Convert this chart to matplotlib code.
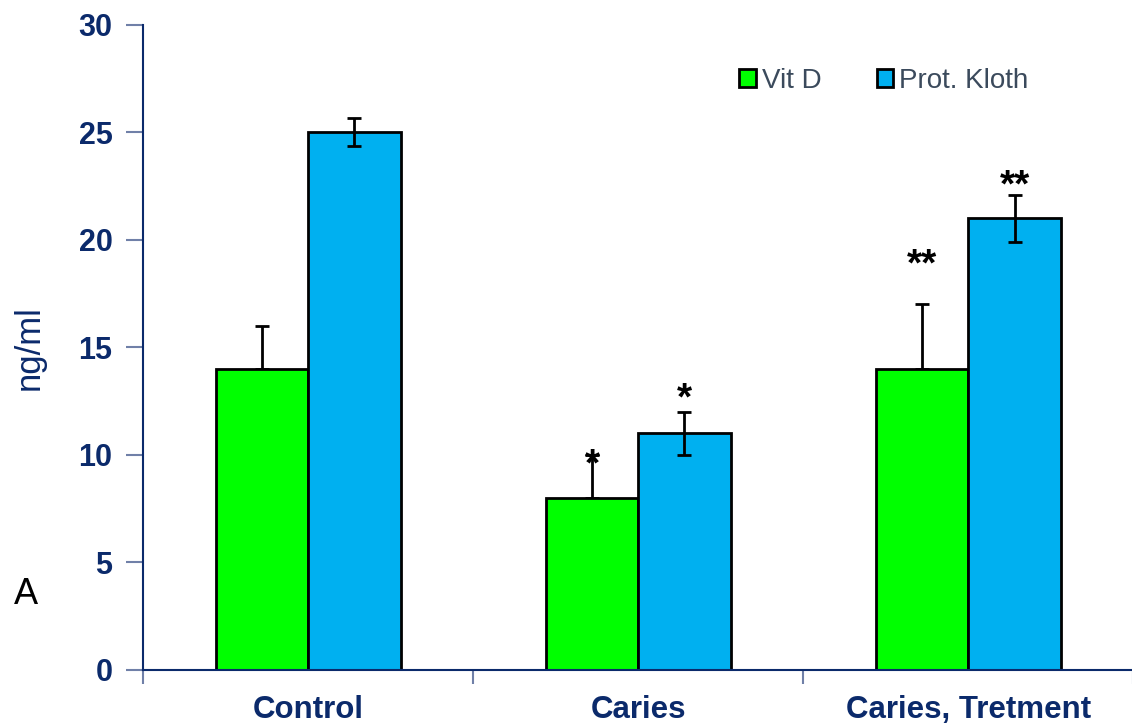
import matplotlib
matplotlib.use('Agg')
import matplotlib.pyplot as plt
import numpy as np

plt.rcParams['font.family'] = ['Liberation Sans', 'DejaVu Sans']

groups = ['Control', 'Caries', 'Caries, Tretment']
vitd = [14, 8, 14]
vitd_err = [2, 2, 3]
kloth = [25, 11, 21]
kloth_err = [0.65, 1.0, 1.1]
vitd_marks = ['', '*', '**']
kloth_marks = ['', '*', '**']
vitd_mark_y = [0, 9.5, 18.8]
kloth_mark_y = [0, 12.6, 22.5]

navy = '#0b2a6b'
fig = plt.figure(figsize=(11.32, 7.28), dpi=100)
ax = fig.add_axes([0.1263, 0.0797, 0.875, 0.886])

x = np.arange(len(groups))
w = 0.28
ax.bar(x - w/2, vitd, w, color='#00ff00', edgecolor='black', linewidth=2, label='Vit D', zorder=2)
ax.bar(x + w/2, kloth, w, color='#00b0f0', edgecolor='black', linewidth=2, label='Prot. Kloth', zorder=2)
ax.errorbar(x - w/2, vitd, yerr=[np.zeros(3), vitd_err], fmt='none', ecolor='black',
            elinewidth=2, capsize=5, capthick=2, zorder=1)
ax.errorbar(x + w/2, kloth, yerr=kloth_err, fmt='none', ecolor='black',
            elinewidth=2, capsize=5, capthick=2, zorder=3)

for i in range(3):
    if vitd_marks[i]:
        ax.text(x[i] - w/2, vitd_mark_y[i], vitd_marks[i], ha='center', va='center',
                fontsize=28, fontweight='bold', zorder=4)
    if kloth_marks[i]:
        ax.text(x[i] + w/2, kloth_mark_y[i], kloth_marks[i], ha='center', va='center',
                fontsize=28, fontweight='bold', zorder=4)

ax.set_xlim(-0.5, 2.5)
ax.set_ylim(0, 30)
ax.set_yticks(range(0, 31, 5))
ax.set_xticks([-0.5, 0.5, 1.5, 2.5])
ax.set_xticklabels([])
ax.set_xticks(x, minor=True)
ax.set_xticklabels(groups, minor=True)
ax.tick_params(axis='x', which='minor', length=0, pad=18, labelsize=22.5, labelcolor=navy)
ax.tick_params(axis='x', which='major', length=10, color='#7080a8', width=1.5)
ax.tick_params(axis='y', length=12, color='#7080a8', width=1.5, labelsize=22,
               labelcolor=navy, pad=10)
for lab in ax.get_xticklabels(minor=True) + ax.get_yticklabels():
    lab.set_fontweight('bold')

for s in ['top', 'right']:
    ax.spines[s].set_visible(False)
for s in ['left', 'bottom']:
    ax.spines[s].set_color(navy)
    ax.spines[s].set_linewidth(1.5)

ax.set_ylabel('ng/ml', fontsize=25, color=navy)
ax.yaxis.set_label_coords(-0.098, 0.5)
fig.text(0.012, 0.183, 'A', fontsize=26, color='black', va='center')

leg = ax.legend(loc='upper right', bbox_to_anchor=(0.919, 0.972), ncol=2, frameon=False,
                fontsize=20, handlelength=0.6, handleheight=0.6, handletextpad=0.2,
                columnspacing=2.0)
for t in leg.get_texts():
    t.set_color('#3b4a5c')

fig.savefig('out.png', dpi=100)
